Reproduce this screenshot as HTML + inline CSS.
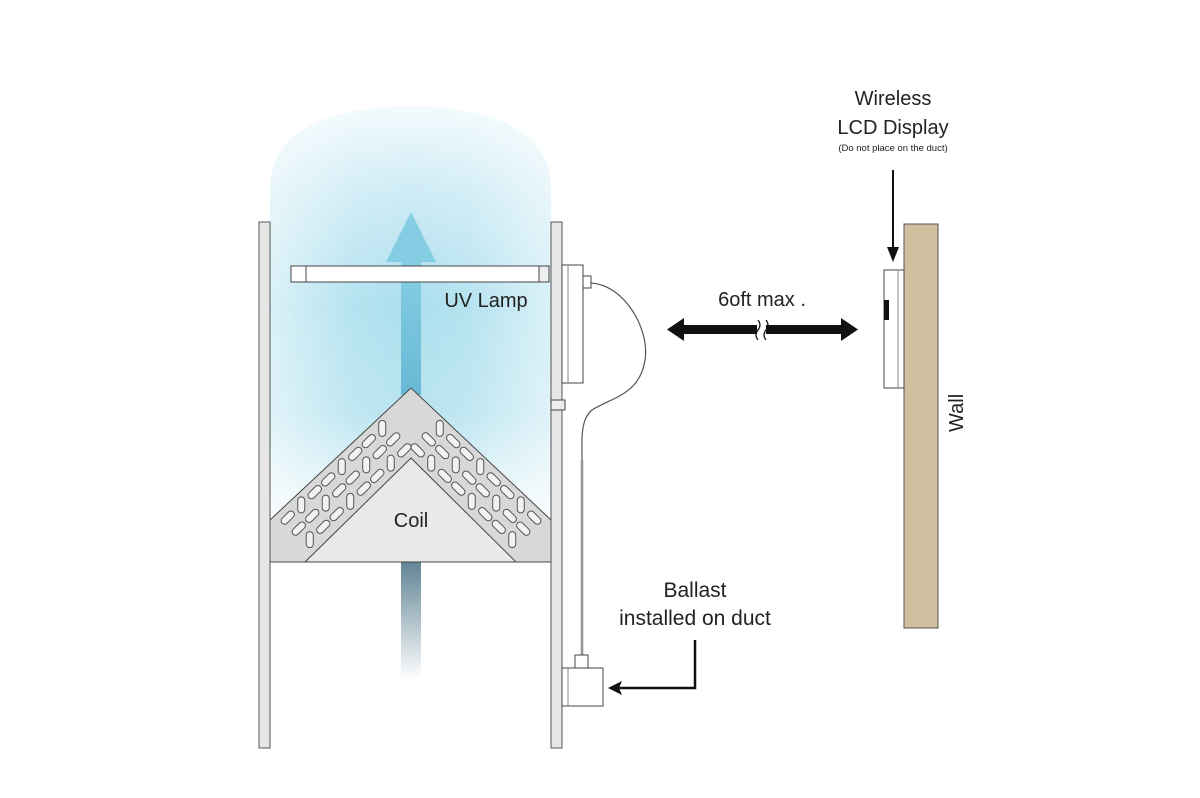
<!DOCTYPE html>
<html><head><meta charset="utf-8"><style>
html,body{margin:0;padding:0;background:#fff;}
svg{display:block;}
text{font-family:"Liberation Sans",sans-serif;fill:#222;}
</style></head><body>
<svg id="s" width="1200" height="798" viewBox="0 0 1200 798" xmlns="http://www.w3.org/2000/svg">
<defs>
<linearGradient id="gv" x1="0" y1="108" x2="0" y2="545" gradientUnits="userSpaceOnUse">
<stop offset="0" stop-color="#f2fafd"/>
<stop offset="0.2" stop-color="#cdebf5"/>
<stop offset="0.45" stop-color="#acdfee"/>
<stop offset="0.7" stop-color="#b9e4f0"/>
<stop offset="0.88" stop-color="#e4f4f9"/>
<stop offset="1" stop-color="#ffffff"/>
</linearGradient>
<linearGradient id="gh" x1="270" y1="0" x2="551" y2="0" gradientUnits="userSpaceOnUse">
<stop offset="0" stop-color="#fff" stop-opacity="0.55"/>
<stop offset="0.3" stop-color="#fff" stop-opacity="0.1"/>
<stop offset="0.5" stop-color="#fff" stop-opacity="0"/>
<stop offset="0.7" stop-color="#fff" stop-opacity="0.1"/>
<stop offset="1" stop-color="#fff" stop-opacity="0.55"/>
</linearGradient>
<linearGradient id="up" x1="0" y1="1" x2="0" y2="0">
<stop offset="0" stop-color="#5fb4d2"/>
<stop offset="1" stop-color="#84cde3"/>
</linearGradient>
<linearGradient id="down" x1="0" y1="0" x2="0" y2="1">
<stop offset="0" stop-color="#5f8293"/>
<stop offset="1" stop-color="#ffffff"/>
</linearGradient>
</defs>
<path d="M270,545 L270,185 Q275,108 411,106 Q546,108 551,185 L551,545 Z" fill="url(#gv)"/>
<path d="M270,545 L270,185 Q275,108 411,106 Q546,108 551,185 L551,545 Z" fill="url(#gh)"/>
<rect x="401" y="560" width="20" height="120" fill="url(#down)"/>
<rect x="401" y="255" width="20" height="140" fill="url(#up)" opacity="0.9"/>
<polygon points="411,212 436,262 386,262" fill="#84cde3"/>
<polygon points="270,520 411,388 551,520 551,562 270,562" fill="#d8d8d8" stroke="#444" stroke-width="1"/>
<polygon points="305,562 411,458 516,562" fill="#e9e9e9" stroke="#444" stroke-width="1"/>
<g id="slots" fill="#f2f2f2" stroke="#555" stroke-width="1"></g>
<rect x="259" y="222" width="11" height="526" fill="#e6e6e6" stroke="#555"/>
<rect x="551" y="222" width="11" height="526" fill="#e6e6e6" stroke="#555"/>
<rect x="291" y="266" width="258" height="16" fill="#fff" stroke="#444"/>
<line x1="306" y1="266" x2="306" y2="282" stroke="#444"/>
<rect x="539" y="266" width="10" height="16" fill="#eee" stroke="#444"/>
<rect x="562" y="265" width="21" height="118" fill="#fff" stroke="#444"/>
<line x1="568" y1="265" x2="568" y2="383" stroke="#888"/>
<rect x="583" y="276" width="8" height="12" fill="#fff" stroke="#444"/>
<rect x="551" y="400" width="14" height="10" fill="#eee" stroke="#444"/>
<path d="M591,283 C625,285 650,330 645,360 C640,395 610,398 592,410 C580,420 582,440 582,460" fill="none" stroke="#555" stroke-width="1.2"/>
<line x1="582" y1="460" x2="582" y2="655" stroke="#bbb" stroke-width="3"/>
<line x1="582" y1="460" x2="582" y2="655" stroke="#777" stroke-width="1"/>
<rect x="575" y="655" width="13" height="13" fill="#fff" stroke="#444"/>
<rect x="562" y="668" width="41" height="38" fill="#fff" stroke="#444"/>
<line x1="568" y1="668" x2="568" y2="706" stroke="#888"/>
<polyline points="695,640 695,688 618,688" fill="none" stroke="#111" stroke-width="2.5"/>
<polygon points="608,688 622,681 619,688 622,695" fill="#111"/>
<text x="486" y="307" font-size="20" text-anchor="middle">UV Lamp</text>
<text x="411" y="527" font-size="20" text-anchor="middle">Coil</text>
<text x="695" y="597" font-size="21" text-anchor="middle">Ballast</text>
<text x="695" y="625" font-size="21" text-anchor="middle">installed on duct</text>
<text x="762" y="306" font-size="20" text-anchor="middle">6oft max .</text>
<rect x="680" y="325" width="77" height="9" fill="#111"/>
<rect x="766" y="325" width="78" height="9" fill="#111"/>
<polygon points="667,329.5 684,318 684,341" fill="#111"/>
<polygon points="858,329.5 841,318 841,341" fill="#111"/>
<path d="M758,320 q4,5 0,10 q-4,5 0,10 M766,320 q4,5 0,10 q-4,5 0,10" fill="none" stroke="#111" stroke-width="1.2"/>
<text x="893" y="105" font-size="20" text-anchor="middle">Wireless</text>
<text x="893" y="134" font-size="20" text-anchor="middle">LCD Display</text>
<text x="893" y="151" font-size="9.5" text-anchor="middle">(Do not place on the duct)</text>
<line x1="893" y1="170" x2="893" y2="252" stroke="#111" stroke-width="2"/>
<polygon points="893,262 887,247 899,247" fill="#111"/>
<rect x="904" y="224" width="34" height="404" fill="#d1c0a0" stroke="#555"/>
<rect x="884" y="270" width="20" height="118" fill="#fff" stroke="#444"/>
<line x1="898" y1="270" x2="898" y2="388" stroke="#888"/>
<rect x="884" y="300" width="5" height="20" fill="#111"/>
<text x="0" y="0" font-size="20" transform="translate(963,432) rotate(-90)">Wall</text>
</svg>
<script>
var g=document.getElementById('slots'),h='';
function band(ax,ay,bx,by,dir){
 var n=8;
 for(var i=0;i<n;i++){
  var t=(i+0.5)/n;
  for(var j=0;j<3;j++){
   var off=(j-1)*11;
   var x=ax+(bx-ax)*t+dir*off, y=ay+(by-ay)*t+off;
   var ang=(i+j)%3==0?90:(dir>0?-45:45);
   h+='<rect x="'+(x-8)+'" y="'+(y-3.5)+'" width="16" height="7" rx="3.5" transform="rotate('+ang+' '+x+' '+y+')"/>';
  }
 }
}
band(400,433,292,535,1);
band(422,433,530,535,-1);
g.innerHTML=h;
</script>
</body></html>
